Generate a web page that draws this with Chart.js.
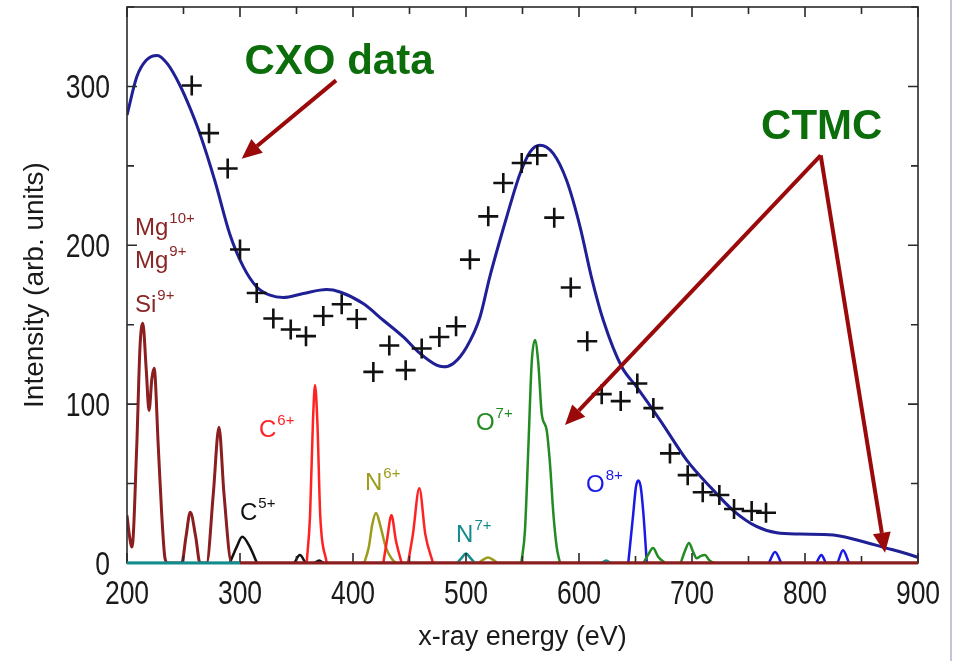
<!DOCTYPE html>
<html>
<head>
<meta charset="utf-8">
<script src="https://cdn.jsdelivr.net/npm/chart.js@4/dist/chart.umd.min.js"></script>
<style>
  html, body { margin: 0; padding: 0; background: #fff; }
  #wrap { width: 954px; height: 661px; position: relative; }
</style>
</head>
<body>
<div id="wrap"><canvas id="spec" width="954" height="661"></canvas></div>
<script>
// CXO data (crosses), energy in eV / intensity in arb. units
const cxoEnergy = [257.3, 272.6, 289.1, 300, 314.8, 329.5, 344.9, 358.4, 373.7, 390, 403.3, 418, 432.1, 446.6,
    460.8, 476.4, 491.2, 503.5, 519.7, 533, 549.3, 563.1, 578.1, 592.7, 607.3, 620.1, 636.9, 651.6, 665.8,
    680.5, 696.2, 709.5, 724.2, 737.2, 752.8, 765.5];
const cxoIntensity = [300.6, 270.6, 248.3, 197.3, 170, 153.9, 147, 142.8, 155.5, 162.9, 153.6, 120.3, 136.9, 121.4,
    135, 142.3, 149, 191, 218.2, 239.2, 251.8, 256.6, 217.4, 173.4, 139.6, 106.3, 101.9, 113, 97.5,
    69, 55.3, 44.5, 42.8, 34, 32.7, 31.6];

// CTMC total spectrum (blue curve)
const ctmcTotal = [[200, 282], [208.6, 306], [217, 316.5], [226.8, 319.5], [236, 314], [246.9, 300.6], [256, 286],
    [264.6, 270], [278, 240], [291, 207], [303, 186.4], [314.8, 173.8], [326.5, 168.6], [338.3, 167.1], [356, 169.6],
    [376.7, 172.1], [388.5, 170.6], [409, 163.3], [426.8, 152.8], [444.5, 142.3], [459.3, 131.9], [474, 124.5],
    [480, 123.5], [488.8, 125.6], [500.6, 136], [512.4, 154.9], [521, 180], [536, 217.8], [547.8, 245],
    [556.6, 258.7], [565.5, 263], [577.3, 257.7], [589, 240.9], [601, 211.5], [611, 180], [621.5, 152.8],
    [637.8, 123.5], [651, 110.9], [671.7, 90], [695.3, 64.8], [716, 48], [736.6, 33], [757, 23], [775, 19],
    [795.6, 18.2], [825, 17.6], [846, 14.5], [869, 10], [899, 3.8], [900, 3.5]];

// line components
const mgSiLines = [[200, 30], [202, 18], [204.4, 10], [208.6, 73], [211.5, 136], [214, 151], [217, 122], [219.5, 96],
    [222, 116], [224, 122.6], [227.7, 73], [230.7, 31], [233.6, 3], [236, 0], [248.4, 0], [252.2, 16.5], [256, 32],
    [260.8, 16.5], [264.6, 0], [270.5, 0], [276.4, 43.8], [281.4, 85.5], [285.8, 43.8], [292.6, 0], [900, 0]];
const c5Lines = [[[291, 0], [297, 10], [302, 16.5], [308.8, 10], [315, 0]],
    [[348, 0], [353, 5], [358, 0]],
    [[366, 0], [370, 1.5], [374, 0]]];
const c6Lines = [[[359, 0], [362, 30], [364.5, 88], [366.4, 112], [368.5, 88], [371, 30], [376.7, 0]],
    [[426.8, 0], [430, 14], [434, 30], [438, 14], [443, 0]],
    [[448.7, 0], [453, 18], [458.7, 47], [464, 18], [470.8, 0]]];
const n6Lines = [[[410, 0], [414, 10], [417, 24], [420.4, 31.4], [424, 24], [429, 10], [434, 3], [438, 0]],
    [[511, 0], [515, 2], [519.5, 3.5], [524, 2], [528, 0]]];
const n7Lines = [[[200, 0], [300, 0]],
    [[492, 0], [496, 3], [500, 6], [504, 3], [508, 0]],
    [[620, 0], [624, 1.5], [628, 0]]];
const o7Lines = [[[549, 0], [552.2, 20.8], [555.2, 73], [558.1, 125.6], [561, 140.3], [564, 125.6], [567, 94],
    [571.4, 83.6], [574.3, 62.7], [577.3, 31.2], [580.2, 10.3], [583.2, 0]],
    [[657, 0], [661, 5], [665.5, 9.4], [670, 4], [676, 0]],
    [[690, 0], [694, 8], [697.3, 12.6], [701, 7], [704, 3], [708, 4.5], [711.5, 5], [715, 2], [719, 0]]];
const o8Lines = [[[643.6, 0], [648, 31], [650.4, 48], [652.5, 52], [654.6, 48], [657, 31], [660, 0]],
    [[768, 0], [773.5, 7], [779, 0]],
    [[810, 0], [814.6, 5], [819, 0], [828, 0], [833.6, 8], [839, 0]]];

const xTicks = [200, 300, 400, 500, 600, 700, 800, 900];
const yTicks = [0, 100, 200, 300];

const C = {
    cxo: '#111111',
    total: '#1f1f96',
    mgsi: '#8b1e1e',
    c5: '#111111',
    c6: '#ff2222',
    n6: '#9c9c1c',
    n7: '#128c8c',
    o7: '#228b22',
    o8: '#1a1ae6',
    arrow: '#9b0a0a',
    note: '#0b6e0b'
};

const textFont = '"Liberation Sans", Arial, Helvetica, sans-serif';

function toXY(pts) {
    return pts.map(p => ({ x: p[0], y: p[1] }));
}

function lineSet(pts, color, width) {
    return {
        type: 'line',
        data: toXY(pts),
        borderColor: color,
        borderWidth: width,
        pointRadius: 0,
        fill: false,
        cubicInterpolationMode: 'monotone'
    };
}

const datasets = [];
// first dataset is drawn on top
datasets.push({
    type: 'scatter',
    data: cxoEnergy.map((e, i) => ({ x: e, y: cxoIntensity[i] })),
    pointStyle: 'cross',
    pointRadius: 10,
    pointBorderWidth: 2.6,
    borderColor: C.cxo,
    backgroundColor: C.cxo
});
datasets.push(lineSet(ctmcTotal, C.total, 3));
n7Lines.forEach(p => datasets.push(lineSet(p, C.n7, 2.5)));
datasets.push(lineSet(mgSiLines, C.mgsi, 3));
c5Lines.forEach(p => datasets.push(lineSet(p, C.c5, 2.5)));
c6Lines.forEach(p => datasets.push(lineSet(p, C.c6, 2.5)));
n6Lines.forEach(p => datasets.push(lineSet(p, C.n6, 2.5)));
o7Lines.forEach(p => datasets.push(lineSet(p, C.o7, 2.5)));
o8Lines.forEach(p => datasets.push(lineSet(p, C.o8, 2.5)));

// ion labels: [x, y, base, superscript, color]
const ionLabels = [
    [207.1, 206.3, 'Mg', '10+', '#8b2626'],
    [207.1, 185.5, 'Mg', '9+', '#8b2626'],
    [207.1, 158, 'Si', '9+', '#8b2626'],
    [316.8, 79.2, 'C', '6+', C.c6],
    [300, 27, 'C', '5+', '#111'],
    [410.6, 45.9, 'N', '6+', C.n6],
    [491.2, 13.2, 'N', '7+', C.n7],
    [508.8, 83.6, 'O', '7+', C.o7],
    [606.2, 44.7, 'O', '8+', C.o8]
];

// callouts: text at [x, y], arrows from [x, y] to tips
const callouts = [
    { text: 'CXO data', at: [387.6, 315], from: [385, 303.8], tips: [[301.5, 254.5]] },
    { text: 'CTMC', at: [814.8, 274.4], from: [813.9, 256.6], tips: [[587.6, 86.8], [870.8, 6.5]] }
];

function drawArrow(ctx, x1, y1, x2, y2) {
    const ang = Math.atan2(y2 - y1, x2 - x1);
    const head = 20, half = 9;
    const bx = x2 - head * Math.cos(ang), by = y2 - head * Math.sin(ang);
    ctx.beginPath();
    ctx.moveTo(x1, y1);
    ctx.lineTo(bx, by);
    ctx.stroke();
    ctx.beginPath();
    ctx.moveTo(x2, y2);
    ctx.lineTo(bx + half * Math.sin(ang), by - half * Math.cos(ang));
    ctx.lineTo(bx - half * Math.sin(ang), by + half * Math.cos(ang));
    ctx.closePath();
    ctx.fill();
}

// narrow tick numbers, squeezed like the original plot
function narrowText(ctx, txt, x, y, align) {
    ctx.save();
    ctx.font = '34px ' + textFont;
    const w = ctx.measureText(txt).width * 0.78;
    let left = x;
    if (align === 'center') left = x - w / 2;
    if (align === 'right') left = x - w;
    ctx.translate(left, y);
    ctx.scale(0.78, 1);
    ctx.textAlign = 'left';
    ctx.textBaseline = 'alphabetic';
    ctx.fillText(txt, 0, 0);
    ctx.restore();
}

const framePlugin = {
    id: 'frame',
    beforeDraw(chart) {
        const ctx = chart.ctx;
        ctx.save();
        ctx.strokeStyle = '#c4c4da';
        ctx.lineWidth = 2;
        ctx.beginPath();
        ctx.moveTo(951, 0);
        ctx.lineTo(951, 661);
        ctx.stroke();
        ctx.restore();
    },
    afterDatasetsDraw(chart) {
        const ctx = chart.ctx;
        const a = chart.chartArea;
        const xs = chart.scales.x, ys = chart.scales.y;
        ctx.save();
        ctx.strokeStyle = '#2a2a2a';
        ctx.lineWidth = 1.6;
        ctx.strokeRect(a.left, a.top, a.right - a.left, a.bottom - a.top);
        // inward ticks every 50
        for (let v = xs.min; v <= xs.max; v += 50) {
            const px = xs.getPixelForValue(v);
            const len = v % 100 === 0 ? 10 : 7;
            ctx.beginPath();
            ctx.moveTo(px, a.bottom); ctx.lineTo(px, a.bottom - len);
            ctx.moveTo(px, a.top); ctx.lineTo(px, a.top + len);
            ctx.stroke();
        }
        for (let v = 0; v <= ys.max; v += 50) {
            const py = ys.getPixelForValue(v);
            const len = v % 100 === 0 ? 10 : 7;
            ctx.beginPath();
            ctx.moveTo(a.left, py); ctx.lineTo(a.left + len, py);
            ctx.moveTo(a.right, py); ctx.lineTo(a.right - len, py);
            ctx.stroke();
        }
        // redraw the maroon / teal baseline over the frame
        ctx.strokeStyle = C.mgsi;
        ctx.lineWidth = 3;
        ctx.beginPath();
        ctx.moveTo(xs.getPixelForValue(300), a.bottom);
        ctx.lineTo(a.right, a.bottom);
        ctx.stroke();
        ctx.strokeStyle = C.n7;
        ctx.beginPath();
        ctx.moveTo(a.left, a.bottom);
        ctx.lineTo(xs.getPixelForValue(300), a.bottom);
        ctx.stroke();

        // tick numbers
        ctx.fillStyle = '#1a1a1a';
        xTicks.forEach(v => narrowText(ctx, String(v), xs.getPixelForValue(v), a.bottom + 41, 'center'));
        yTicks.forEach(v => narrowText(ctx, String(v), a.left - 17, ys.getPixelForValue(v) + 12, 'right'));

        // ion labels
        ctx.textBaseline = 'alphabetic';
        ctx.textAlign = 'left';
        ionLabels.forEach(l => {
            const px = xs.getPixelForValue(l[0]), py = ys.getPixelForValue(l[1]);
            ctx.fillStyle = l[4];
            ctx.font = '24px ' + textFont;
            ctx.fillText(l[2], px, py);
            const w = ctx.measureText(l[2]).width;
            ctx.font = '15px ' + textFont;
            ctx.fillText(l[3], px + w + 1, py - 12);
        });

        // callouts
        ctx.strokeStyle = C.arrow;
        ctx.fillStyle = C.arrow;
        ctx.lineWidth = 4;
        ctx.lineCap = 'butt';
        callouts.forEach(c => {
            const fx = xs.getPixelForValue(c.from[0]), fy = ys.getPixelForValue(c.from[1]);
            c.tips.forEach(t => drawArrow(ctx, fx, fy, xs.getPixelForValue(t[0]), ys.getPixelForValue(t[1])));
        });
        ctx.fillStyle = C.note;
        ctx.font = 'bold 42px ' + textFont;
        ctx.textAlign = 'center';
        ctx.textBaseline = 'middle';
        callouts.forEach(c => {
            ctx.fillText(c.text, xs.getPixelForValue(c.at[0]), ys.getPixelForValue(c.at[1]));
        });
        ctx.restore();
    }
};

new Chart(document.getElementById('spec'), {
    data: { datasets: datasets },
    options: {
        responsive: false,
        animation: false,
        layout: { autoPadding: false, padding: { top: 7, right: 36, left: 0, bottom: 0 } },
        plugins: { legend: { display: false }, tooltip: { enabled: false } },
        scales: {
            x: {
                type: 'linear',
                min: 200,
                max: 900,
                afterFit(scale) {
                    scale.height = 98;
                    scale.paddingLeft = 0; scale.paddingRight = 0;
                },
                afterBuildTicks(scale) { scale.ticks = xTicks.map(v => ({ value: v })); },
                grid: { display: false, drawTicks: false },
                border: { display: false },
                ticks: { display: false },
                title: {
                    display: true,
                    text: 'x-ray energy (eV)',
                    color: '#1a1a1a',
                    font: { family: textFont, size: 27 },
                    padding: { top: 0, bottom: 7 }
                }
            },
            y: {
                type: 'linear',
                min: 0,
                max: 350,
                afterFit(scale) {
                    scale.width = 127;
                    scale.paddingTop = 0; scale.paddingBottom = 0;
                },
                afterBuildTicks(scale) { scale.ticks = yTicks.map(v => ({ value: v })); },
                grid: { display: false, drawTicks: false },
                border: { display: false },
                ticks: { display: false },
                title: {
                    display: true,
                    text: 'Intensity (arb. units)',
                    color: '#1a1a1a',
                    font: { family: textFont, size: 28 },
                    padding: { top: 18, bottom: 0 }
                }
            }
        }
    },
    plugins: [framePlugin]
});
</script>
</body>
</html>
